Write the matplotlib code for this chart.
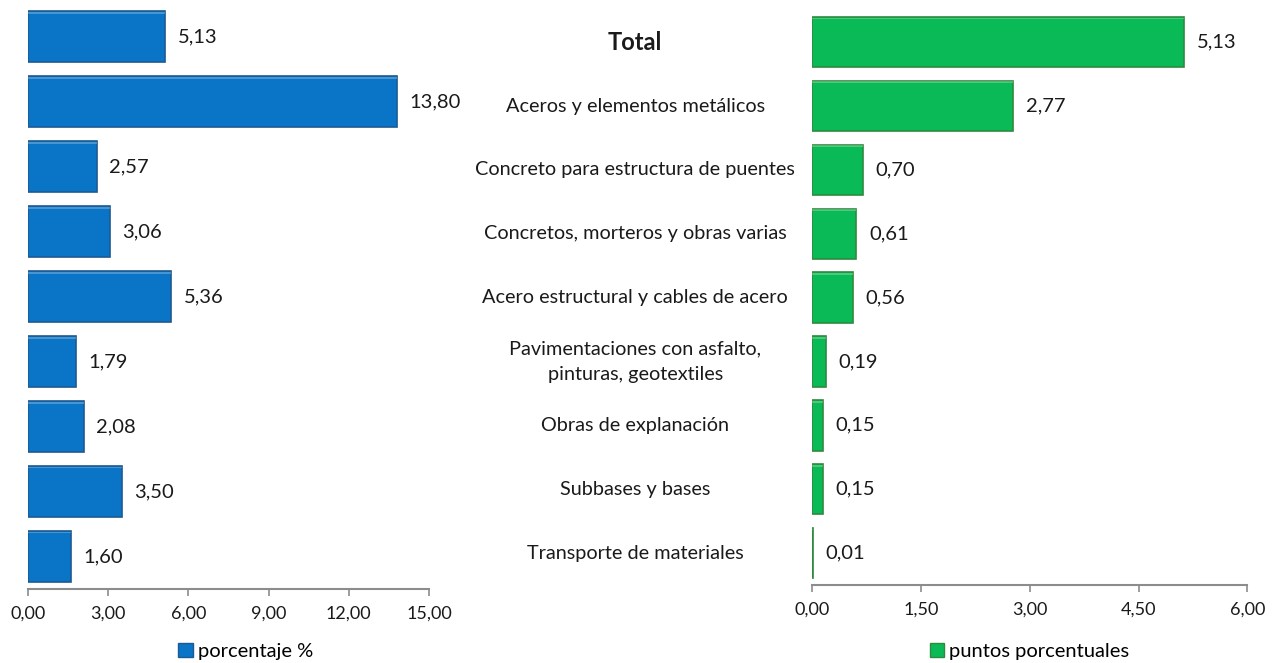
import matplotlib.pyplot as plt
from matplotlib.patches import Patch
from matplotlib.ticker import FixedLocator, FuncFormatter
from matplotlib.transforms import blended_transform_factory

plt.rcParams['font.family'] = ['Lato', 'DejaVu Sans']

# datos
categorias = ['Total', 'Aceros y elementos metálicos', 'Concreto para estructura de puentes',
              'Concretos, morteros y obras varias', 'Acero estructural y cables de acero',
              'Pavimentaciones con asfalto,\npinturas, geotextiles', 'Obras de explanación',
              'Subbases y bases', 'Transporte de materiales']
porcentaje = [5.13, 13.80, 2.57, 3.06, 5.36, 1.79, 2.08, 3.50, 1.60]
puntos = [5.13, 2.77, 0.70, 0.61, 0.56, 0.19, 0.15, 0.15, 0.01]
ticks_izq = [0, 3, 6, 9, 12, 15]
ticks_der = [0, 1.5, 3, 4.5, 6]

azul, azul_borde = '#0A74C6', '#1C5A93'
verde, verde_borde = '#0ABA56', '#2E8B3E'
gris = '#8C8C8C'
texto = '#1a1a1a'

fig = plt.figure(figsize=(12.73, 6.63), dpi=100)
ax1 = fig.add_axes([0.022, 0.1116, 0.315, 0.882])
ax2 = fig.add_axes([0.638, 0.1176, 0.3418, 0.867])

pos = list(range(len(categorias)))
coma = FuncFormatter(lambda v, p: f'{v:.2f}'.replace('.', ','))


def panel(ax, valores, color, borde, xmax, ticks):
    ax.barh(pos, valores, height=0.79, color=color, edgecolor=borde, linewidth=1.2)
    # brillo superior de cada barra
    ax.barh([p - 0.37 for p in pos], valores, height=0.03, color='white', alpha=0.25, linewidth=0)
    for p, v in zip(pos, valores):
        ax.annotate(f'{v:.2f}'.replace('.', ','), (v, p), xytext=(9, 0), textcoords='offset points',
                    va='center', ha='left', fontsize=14.5, color=texto)
    ax.set_xlim(0, xmax)
    ax.set_ylim(len(categorias) - 0.5, -0.5)
    ax.xaxis.set_major_locator(FixedLocator(ticks))
    ax.xaxis.set_major_formatter(coma)
    ax.set_yticks([])
    for s in ['top', 'right', 'left']:
        ax.spines[s].set_visible(False)
    ax.spines['bottom'].set_color(gris)
    ax.spines['bottom'].set_linewidth(1.5)
    ax.tick_params(axis='x', direction='out', length=5, width=1.2, color=gris,
                   labelsize=13, pad=7, labelcolor=texto)


panel(ax1, porcentaje, azul, azul_borde, 15, ticks_izq)
panel(ax2, puntos, verde, verde_borde, 6, ticks_der)

# nombres de categorías en el centro
trans = blended_transform_factory(fig.transFigure, ax2.transData)
for p, c in zip(pos, categorias):
    ax2.text(0.499, p, c, transform=trans, ha='center', va='center',
             fontsize=17 if p == 0 else 14.3, fontweight='bold' if p == 0 else 'normal',
             color=texto, linespacing=1.6)

fig.legend(handles=[Patch(facecolor=azul, edgecolor=azul_borde)], labels=['porcentaje %'],
           loc='center', bbox_to_anchor=(0.193, 0.017), frameon=False, fontsize=14.5,
           handlelength=0.7, handleheight=0.7, handletextpad=0.25)
fig.legend(handles=[Patch(facecolor=verde, edgecolor=verde_borde)], labels=['puntos porcentuales'],
           loc='center', bbox_to_anchor=(0.809, 0.017), frameon=False, fontsize=14.5,
           handlelength=0.7, handleheight=0.7, handletextpad=0.25)

fig.savefig('out.png', dpi=100)
